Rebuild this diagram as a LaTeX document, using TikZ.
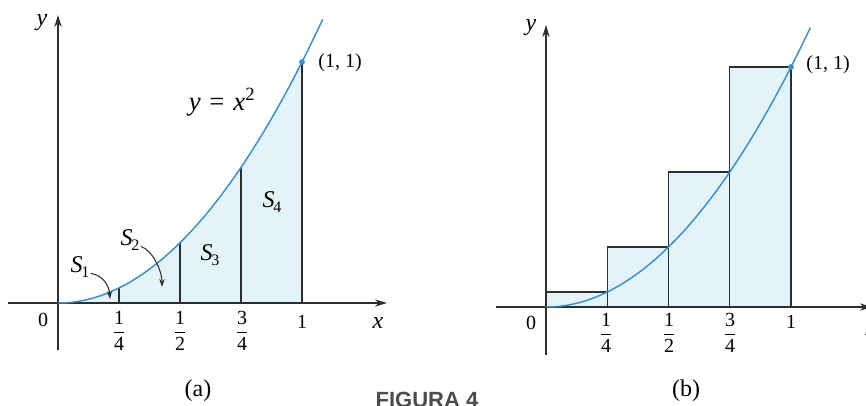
\documentclass[tikz,border=0pt]{standalone}
\usepackage{amsmath}
\usepackage{fontspec}
\setmainfont{Liberation Serif}
\newfontfamily\figfont{Liberation Sans}
\usetikzlibrary{arrows.meta}
\definecolor{curvec}{HTML}{3A8ED4}
\definecolor{fillc}{HTML}{E2F4FA}
\definecolor{axisc}{HTML}{2E2E2E}
\newcommand\numfont{\fontsize{15}{18}\selectfont}
\newcommand\labfont{\fontsize{18}{22}\selectfont}
\newcommand\Sub[2]{\textit{#1}\kern-0.06em\raisebox{-0.4ex}{\fontsize{12}{14}\selectfont #2}}
\newcommand\fr[2]{$\dfrac{\text{#1}}{\text{#2}}$}
\tikzset{
  axisline/.style={draw=axisc, line width=1pt, -{Stealth[length=9pt,width=5.5pt]}},
  curveline/.style={draw=curvec, line width=1.1pt},
  barline/.style={draw=axisc, line width=1.1pt},
  rectbox/.style={draw=axisc, fill=fillc, line width=1.1pt},
  numlab/.style={font=\numfont, inner sep=0pt},
  mathlab/.style={font=\labfont, inner sep=0pt},
  pointer/.style={draw=axisc, line width=0.8pt, -{Stealth[length=6pt,width=4pt]}},
  dotmark/.style={fill=curvec, draw=none}
}
\begin{document}
\begin{tikzpicture}[x=0.75pt,y=0.75pt]
\useasboundingbox (0,0) rectangle (866,405);
% ---------------- panel (a) ----------------
\begin{scope}[shift={(58,102)}, x=183pt, y=180.75pt]
  \fill[fillc] (0,0) -- plot[domain=0:1, samples=60] (\x,{\x*\x}) -- (1,0) -- cycle;
  \draw[barline] (0.25,0) -- (0.25,0.0625);
  \draw[barline] (0.5,0) -- (0.5,0.25);
  \draw[barline] (0.75,0) -- (0.75,0.5625);
  \draw[barline] (1,0) -- (1,1);
  \coordinate (axL) at (-0.205,0);
  \coordinate (axR) at (1.348,0);
  \coordinate (ayB) at (0,-0.195);
  \coordinate (ayT) at (0,1.195);
  \draw[axisline] (axL) -- (axR);
  \draw[axisline] (ayB) -- (ayT);
  \draw[curveline] plot[domain=0:1.085, samples=80] (\x,{\x*\x});
  \fill[dotmark] (1,1) circle (2.2pt);
\end{scope}
\node[mathlab] (ya) at (42,382) {\textit{y}};
\node[mathlab] (xa) at (378,82) {\textit{x}};
\node[numlab] (za) at (43,85) {0};
\node[numlab] (fa1) at (119,74) {\fr{1}{4}};
\node[numlab] (fa2) at (180,74) {\fr{1}{2}};
\node[numlab] (fa3) at (242,74) {\fr{3}{4}};
\node[numlab] (oa) at (302,83) {1};
\node[numlab] (pa) at (340,342) {(1, 1)};
\node[mathlab, font=\fontsize{20}{24}\selectfont] (eq) at (222,303) {\textit{y}\,\,=\,\,\textit{x}\textsuperscript{2}};
\node[mathlab] (S4) at (272,203) {\Sub{S}{4}};
\node[mathlab] (S3) at (210,150) {\Sub{S}{3}};
\node[mathlab] (S2) at (130,165) {\Sub{S}{2}};
\node[mathlab] (S1) at (80,138) {\Sub{S}{1}};
\coordinate (s1t) at (110,106);
\coordinate (s2t) at (162,118);
\draw[pointer] ([xshift=1pt,yshift=3pt]S1.south east) .. controls +(12,-2) and +(-1,14) .. (s1t);
\draw[pointer] ([xshift=1pt,yshift=3pt]S2.south east) .. controls +(12,-4) and +(0,16) .. (s2t);
\node[mathlab] (capa) at (198,14) {(a)};
% ---------------- panel (b) ----------------
\begin{scope}[shift={(546,98)}, x=183.75pt, y=180pt]
  \draw[rectbox] (0,0) rectangle (0.25,0.0625);
  \draw[rectbox] (0.25,0) rectangle (0.5,0.25);
  \draw[rectbox] (0.5,0) rectangle (0.75,0.5625);
  \draw[rectbox] (0.75,0) rectangle (1,1);
  \coordinate (bxL) at (-0.204,0);
  \coordinate (bxR) at (1.33,0);
  \coordinate (byB) at (0,-0.2);
  \coordinate (byT) at (0,1.175);
  \draw[axisline] (bxL) -- (bxR);
  \draw[axisline] (byB) -- (byT);
  \draw[curveline] plot[domain=0:1.08, samples=80] (\x,{\x*\x});
  \fill[dotmark] (1,1) circle (2.2pt);
\end{scope}
\node[mathlab] (yb) at (531,377) {\textit{y}};
\node[mathlab] (xb) at (871,75) {\textit{x}};
\node[numlab] (zb) at (531,82) {0};
\node[numlab] (fb1) at (606,72) {\fr{1}{4}};
\node[numlab] (fb2) at (669,72) {\fr{1}{2}};
\node[numlab] (fb3) at (730,72) {\fr{3}{4}};
\node[numlab] (ob) at (791,83) {1};
\node[numlab] (pb) at (828,340) {(1, 1)};
\node[mathlab] (capb) at (686,14) {(b)};
% ---------------- caption ----------------
\node[anchor=north, inner sep=0pt, text=black!70, font=\figfont\bfseries\fontsize{16.5}{20}\selectfont] (fig) at (427,13) {FIGURA 4};
\end{tikzpicture}
\end{document}
